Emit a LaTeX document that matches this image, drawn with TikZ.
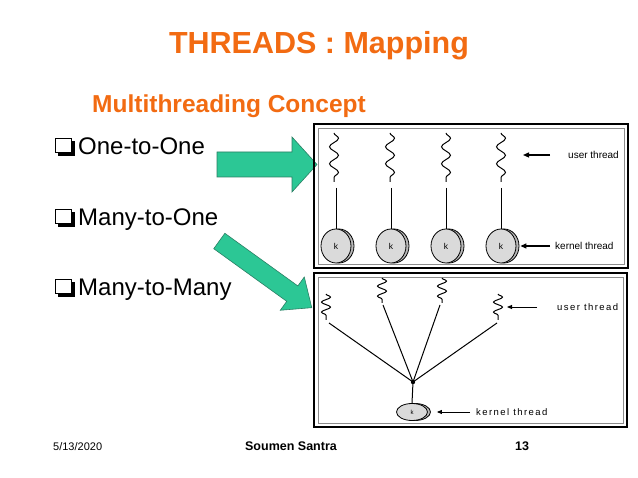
\documentclass[tikz,border=0pt]{standalone}
\usepackage{fontspec}
\setmainfont{Liberation Sans}
\usetikzlibrary{arrows.meta,decorations.pathmorphing,shapes.geometric,shadows,positioning}
\definecolor{Title}{HTML}{F26B12}
\definecolor{Sea}{HTML}{2CC795}
\definecolor{SeaEdge}{HTML}{2A7F64}
\definecolor{Coin}{HTML}{DADADA}
\definecolor{Frame}{HTML}{8C8C8C}

\begin{document}
\begin{tikzpicture}[x=1pt,y=-1pt,
    frame/.style={draw=black,line width=2.4pt},
    inframe/.style={draw=Frame,line width=0.8pt},
    bigarrow/.style={fill=Sea,draw=SeaEdge,line width=0.6pt},
    bullet/.style={anchor=base west,inner sep=0pt,font=\fontsize{24}{28}\selectfont},
    tick/.style={fill=white,draw=black,line width=1.1pt},
    tickshade/.style={fill=black},
    thread/.style={line width=1pt,decorate,decoration={snake,amplitude=4.5pt,segment length=17pt}},
    smallthread/.style={line width=1pt,decorate,decoration={snake,amplitude=4.5pt,segment length=10pt}},
    link/.style={line width=1pt},
    coin/.style={ellipse,draw=black,line width=0.8pt,fill=Coin,inner sep=0pt,
      font=\fontsize{8.5}{9}\selectfont,
      copy shadow={shadow xshift=3pt,shadow yshift=0pt,fill=Coin!85!black,draw=black}},
    pointer/.style={-{Triangle[length=6pt,width=5pt]},line width=1.2pt},
    thinpointer/.style={-{Triangle[length=5pt,width=4pt]},line width=0.9pt},
    tag/.style={anchor=west,inner sep=0pt,font=\fontsize{10}{12}\selectfont},
    widetag/.style={anchor=west,inner sep=0pt,font=\fontsize{9.5}{11}\selectfont\addfontfeatures{LetterSpace=15}}]
  \useasboundingbox (0,0) rectangle (638,478);

  % headings
  \node[text=Title,font=\fontsize{30.5}{36}\selectfont\bfseries,anchor=base] (title) at (319,54) {THREADS : Mapping};
  \node[text=Title,font=\fontsize{24.5}{29}\selectfont\bfseries,anchor=base west,inner sep=0pt] (concept) at (92,113) {Multithreading Concept};

  % bullets
  \fill[tickshade] (58,141) rectangle (75,156);
  \draw[tick] (55.5,138.5) rectangle (71.5,152.5);
  \node[bullet] (b1) at (78,155) {One-to-One};
  \fill[tickshade] (58,212) rectangle (75,227);
  \draw[tick] (55.5,209.5) rectangle (71.5,223.5);
  \node[bullet] (b2) at (78,226) {Many-to-One};
  \fill[tickshade] (58,282) rectangle (75,297);
  \draw[tick] (55.5,279.5) rectangle (71.5,293.5);
  \node[bullet] (b3) at (78,296) {Many-to-Many};

  % green arrows
  \draw[bigarrow] (217,152) -- (292,152) -- (292,137) -- (317,164.5) -- (292,192) -- (292,177) -- (217,177) -- cycle;
  \begin{scope}[shift={(219.3,241)},rotate=-35.8]
    \draw[bigarrow] (0,-9.5) -- (90,-9.5) -- (90,-20.5) -- (114,0) -- (90,20.5) -- (90,9.5) -- (0,9.5) -- cycle;
  \end{scope}

  % one-to-one box
  \draw[frame] (314,124) rectangle (628,268);
  \draw[inframe] (318,128) rectangle (624,264);
  \coordinate (u1a) at (334,133); \coordinate (u1b) at (334,182);
  \coordinate (u2a) at (390,133); \coordinate (u2b) at (390,182);
  \coordinate (u3a) at (446,133); \coordinate (u3b) at (446,182);
  \coordinate (u4a) at (501,133); \coordinate (u4b) at (501,182);
  \draw[thread] (u1a) -- (u1b);
  \draw[thread] (u2a) -- (u2b);
  \draw[thread] (u3a) -- (u3b);
  \draw[thread] (u4a) -- (u4b);
  \node[coin,minimum width=30pt,minimum height=34pt] (k1) at (336,246) {k};
  \node[coin,minimum width=30pt,minimum height=34pt] (k2) at (391,246) {k};
  \node[coin,minimum width=30pt,minimum height=34pt] (k3) at (446,246) {k};
  \node[coin,minimum width=30pt,minimum height=34pt] (k4) at (501,246) {k};
  \draw[link] (336,188) -- (k1.north);
  \draw[link] (391,188) -- (k2.north);
  \draw[link] (446,188) -- (k3.north);
  \draw[link] (501,188) -- (k4.north);
  \node[tag] (ut1) at (568,155) {user thread};
  \node[tag] (kt1) at (555,246) {kernel thread};
  \coordinate (ut1tip) at (523,155);
  \draw[pointer,shorten <=18pt] (ut1) -- (ut1tip);
  \draw[pointer,shorten <=5pt,shorten >=4pt] (kt1) -- (k4);

  % many-to-one box
  \draw[frame] (314,273) rectangle (627,427);
  \draw[inframe] (318,277) rectangle (623,423);
  \coordinate (v1a) at (326,294); \coordinate (v1b) at (326,320);
  \coordinate (v2a) at (382,278); \coordinate (v2b) at (382,303);
  \coordinate (v3a) at (442,278); \coordinate (v3b) at (442,303);
  \coordinate (v4a) at (498,294); \coordinate (v4b) at (498,320);
  \draw[smallthread] (v1a) -- (v1b);
  \draw[smallthread] (v2a) -- (v2b);
  \draw[smallthread] (v3a) -- (v3b);
  \draw[smallthread] (v4a) -- (v4b);
  \coordinate (hub) at (413,382);
  \draw[link] (329,323) -- (hub);
  \draw[link] (383,305) -- (hub);
  \draw[link] (440,305) -- (hub);
  \draw[link] (497,323) -- (hub);
  \fill (hub) circle (2.2pt);
  \node[coin,minimum width=31pt,minimum height=17pt,font=\fontsize{6}{7}\selectfont] (kb) at (412,412) {k};
  \draw[link] (hub) -- (kb.north);
  \node[widetag] (ut2) at (557,307) {user thread};
  \node[widetag] (kt2) at (476,412) {kernel thread};
  \coordinate (ut2tip) at (507,307);
  \draw[thinpointer,shorten <=20pt] (ut2) -- (ut2tip);
  \draw[thinpointer,shorten <=6pt,shorten >=9pt] (kt2) -- (kb);

  % footer
  \node[anchor=base west,inner sep=0pt,font=\fontsize{11}{13}\selectfont] (date) at (53,451) {5/13/2020};
  \node[anchor=base,font=\fontsize{12.5}{15}\selectfont\bfseries] (author) at (291,451) {Soumen Santra};
  \node[anchor=base west,inner sep=0pt,font=\fontsize{12.5}{15}\selectfont\bfseries] (page) at (515,451) {13};
\end{tikzpicture}
\end{document}
